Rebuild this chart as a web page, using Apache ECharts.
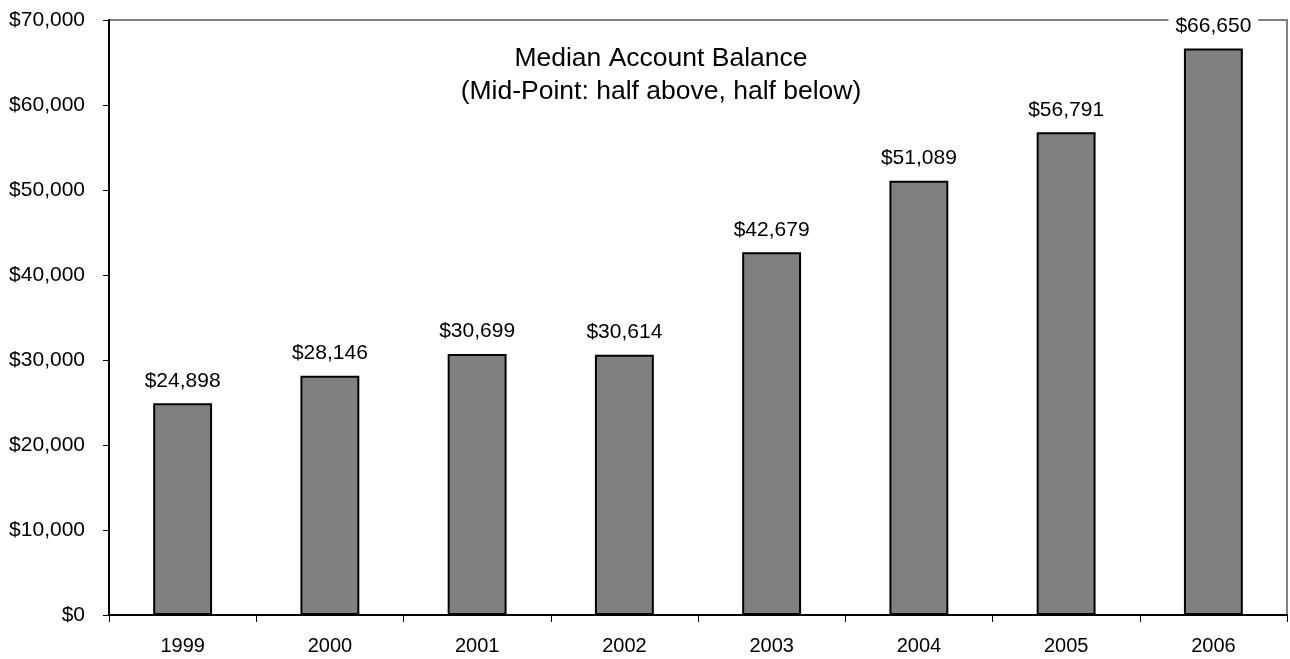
<!DOCTYPE html>
<html>
<head>
<meta charset="utf-8">
<script src="https://cdn.jsdelivr.net/npm/echarts@6/dist/echarts.min.js"></script>
<style>html,body{margin:0;padding:0;background:#fff;}#c{width:1290px;height:659px;}</style>
</head>
<body>
<div id="c"></div>
<script>
const categories = ['1999','2000','2001','2002','2003','2004','2005','2006'];
const balances = [24898, 28146, 30699, 30614, 42679, 51089, 56791, 66650];
const titleLines = ['Median Account Balance', '(Mid-Point: half above, half below)'];

const chart = echarts.init(document.getElementById('c'));
const font = 'Liberation Sans, Arial, sans-serif';
chart.setOption({
  animation: false,
  backgroundColor: '#fff',
  title: {
    text: titleLines.join('\n'),
    left: 656, top: 37, textAlign: 'center',
    textStyle: { fontFamily: font, fontSize: 26.5, fontWeight: 'normal', color: '#000', lineHeight: 33 }
  },
  grid: { left: 109, right: 3, top: 20, bottom: 44, show: true, borderColor: '#808080', borderWidth: 2, backgroundColor: '#fff' },
  xAxis: {
    type: 'category', data: categories,
    axisLine: { lineStyle: { color: '#000', width: 2 } },
    axisTick: { show: true, length: 7, lineStyle: { color: '#000', width: 1 } },
    axisLabel: { fontFamily: font, fontSize: 20, color: '#000', margin: 21 }
  },
  yAxis: {
    type: 'value', min: 0, max: 70000, interval: 10000,
    axisLine: { show: true, lineStyle: { color: '#000', width: 2 } },
    axisTick: { show: true, length: 6, lineStyle: { color: '#000', width: 1 } },
    splitLine: { show: false },
    axisLabel: { fontFamily: font, fontSize: 21, color: '#000', margin: 24,
      formatter: v => '$' + v.toLocaleString('en-US') }
  },
  series: [{
    type: 'bar', data: balances, barWidth: '40%',
    itemStyle: { color: '#808080', borderColor: '#000', borderWidth: 2 },
    label: {
      show: true, position: 'top', distance: 12,
      fontFamily: font, fontSize: 21, color: '#000',
      backgroundColor: '#fff', padding: [0, 7],
      formatter: p => '$' + p.value.toLocaleString('en-US')
    }
  }]
});
</script>
</body>
</html>
